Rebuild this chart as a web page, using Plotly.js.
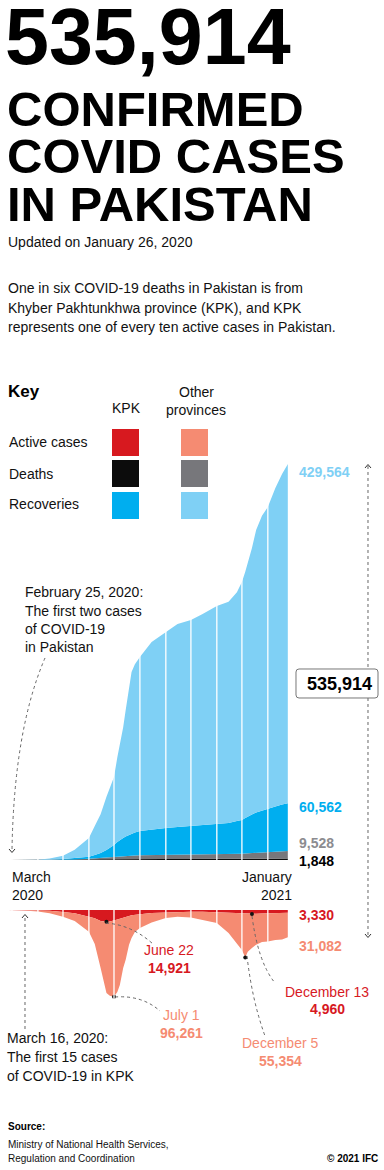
<!DOCTYPE html>
<html>
<head>
<meta charset="utf-8">
<script src="https://cdn.plot.ly/plotly-3.0.1.min.js"></script>
<style>
html,body{margin:0;padding:0;background:#fff;}
#chart{width:384px;height:1170px;}
</style>
</head>
<body>
<div id="chart"></div>
<script>
// ---------------- DATA ----------------
const dates = ['2020-02-25','2020-03-01','2020-03-15','2020-04-01','2020-04-15','2020-05-01','2020-05-15',
  '2020-06-01','2020-06-08','2020-06-15','2020-06-22','2020-06-26','2020-07-01','2020-07-05','2020-07-08',
  '2020-07-12','2020-07-15','2020-07-19','2020-07-22','2020-07-26','2020-08-01','2020-08-15','2020-09-01',
  '2020-09-15','2020-10-01','2020-10-15','2020-11-01','2020-11-15','2020-11-25','2020-12-01','2020-12-05',
  '2020-12-08','2020-12-13','2020-12-18','2020-12-25','2021-01-01','2021-01-10','2021-01-18','2021-01-25'];

const kpkDeaths = [0,0,0,8,40,150,280,520,660,830,965,1030,1110,1140,1160,1180,1190,1200,1210,1215,1224,1235,
  1248,1255,1262,1270,1290,1330,1400,1440,1480,1510,1550,1600,1660,1720,1770,1810,1848];
const otherDeaths = [0,0,0,18,67,235,490,1023,1407,2009,2625,3005,3602,3843,3898,4017,4076,4275,4429,4548,4727,
  4895,5050,5136,5217,5337,5505,5762,6262,6585,6881,7037,7282,7553,7897,8538,8874,9245,9528];
const kpkRecoveries = [0,0,0,30,300,900,1700,2700,4200,6100,9100,11200,14300,17800,20200,22700,24500,26200,
  27300,29000,30800,32500,34200,35400,36500,37700,38800,39800,41700,42700,44800,46600,48800,51000,53100,
  54300,57200,59200,60562];
const otherRecoveries = [0,0,20,140,1600,4200,10500,23700,36700,49100,67300,76800,86000,107200,120700,140100,
  160200,186300,205100,213200,220200,237400,248500,257200,261000,267200,276100,280100,289600,301300,311800,
  320900,337400,357800,373300,382400,403200,418700,429564];
const kpkActive = [0,0,15,300,800,2500,4000,8500,10500,13900,14921,14500,13500,12000,11000,9500,8500,7500,6800,
  6000,5500,3800,2900,2300,2100,2200,3000,3600,4200,4500,4850,4900,4960,4700,4300,4000,3700,3500,3330];
const otherActive = [2,4,585,1600,3200,6000,10000,19000,32500,59600,90100,94000,96261,92000,84000,64000,54500,
  36500,28700,22000,17300,12000,7100,6200,7400,10500,13500,25400,38800,46200,55354,48100,43040,39300,36200,
  36000,34300,33900,31082];

const monthStarts = ['2020-03-01','2020-04-01','2020-05-01','2020-06-01','2020-07-01','2020-08-01','2020-09-01',
  '2020-10-01','2020-11-01','2020-12-01','2021-01-01'];

const callouts = [
  {date:'2020-06-22', level:'kpk', label:'June 22', value:'14,921', color:'#d7191f'},
  {date:'2020-07-01', level:'total', label:'July 1', value:'96,261', color:'#f58b72'},
  {date:'2020-12-05', level:'total', label:'December 5', value:'55,354', color:'#f58b72'},
  {date:'2020-12-13', level:'kpk', label:'December 13', value:'4,960', color:'#d7191f'}
];

// ---------------- STYLE ----------------
const W = 384, H = 1170;
const FONT = 'Liberation Sans, Arial, Helvetica, sans-serif';
const C = {
  red:'#d7191f', salmon:'#f58b72', black:'#0c0c0c', grey:'#77777b', blue:'#00aeef', lblue:'#7fd0f5',
  text:'#111111'
};
const px = x => x / W;
const py = y => 1 - y / H;

const last = dates.length - 1;
const topTotal = kpkDeaths[last] + otherDeaths[last] + kpkRecoveries[last] + otherRecoveries[last];
const activeTotal = kpkActive[last] + otherActive[last];
const grandTotal = topTotal + activeTotal;
const perPx = topTotal / 396;           // same scale for both panels
const botMax = perPx * 100;

const fmt = n => n.toLocaleString('en-US');

// ---------------- TRACES ----------------
function area(y, color, group, axis) {
  return {type:'scatter', mode:'lines', x:dates, y:y, stackgroup:group, yaxis:axis,
    line:{width:0, color:color, shape:'linear'}, fillcolor:color, hoverinfo:'skip'};
}
const traces = [
  area(kpkDeaths, C.black, 'top', 'y'),
  area(otherDeaths, C.grey, 'top', 'y'),
  area(kpkRecoveries, C.blue, 'top', 'y'),
  area(otherRecoveries, C.lblue, 'top', 'y'),
  area(kpkActive, C.red, 'bot', 'y2'),
  area(otherActive, C.salmon, 'bot', 'y2')
];
const dotX = [], dotY = [];
callouts.forEach(c => {
  const i = dates.indexOf(c.date);
  dotX.push(c.date);
  dotY.push(c.level === 'kpk' ? kpkActive[i] : kpkActive[i] + otherActive[i]);
});

// ---------------- SHAPES ----------------
const shapes = [];
monthStarts.forEach(m => {
  shapes.push({type:'line', xref:'x', yref:'y', x0:m, x1:m, y0:0, y1:topTotal, line:{color:'#ffffff', width:1.3}, layer:'above'});
  shapes.push({type:'line', xref:'x', yref:'y2', x0:m, x1:m, y0:0, y1:botMax, line:{color:'#ffffff', width:1.3}, layer:'above'});
});
// Key swatches
const sw = [[C.red, C.salmon],[C.black, C.grey],[C.blue, C.lblue]];
const swY = [429, 460, 492];
sw.forEach((row, r) => {
  [112, 181].forEach((x, k) => {
    shapes.push({type:'rect', xref:'paper', yref:'paper', x0:px(x), x1:px(x+27), y0:py(swY[r]+27), y1:py(swY[r]),
      fillcolor:row[k], line:{width:0}});
  });
});
function P(pts) { // pixel path -> paper path
  return pts.map(p => typeof p === 'string' ? p : (px(p[0]).toFixed(5) + ',' + py(p[1]).toFixed(5))).join(' ');
}
const dotLine = {color:'#666666', width:1, dash:'dot'};
const arrowLine = {color:'#333333', width:1};
function pathShape(pts, line) {
  return {type:'path', xref:'paper', yref:'paper', path:P(pts), line:line};
}
// Feb 25 leader
shapes.push(pathShape(['M',[45,658],'Q',[14,730],[12,850]], dotLine));
shapes.push(pathShape(['M',[9,849],'L',[12,852.5],'L',[15,849]], arrowLine));
// March 16 leader
shapes.push(pathShape(['M',[25,918],'L',[25,1030]], dotLine));
shapes.push(pathShape(['M',[22,918],'L',[25,914.5],'L',[28,918]], arrowLine));
// callout leaders
shapes.push(pathShape(['M',[106,923],'Q',[132,925],[153,944]], dotLine));
shapes.push(pathShape(['M',[115,997],'Q',[142,995],[160,1011]], dotLine));
shapes.push(pathShape(['M',[247,956],'Q',[252,1000],[265,1036]], dotLine));
shapes.push(pathShape(['M',[252,916],'Q',[258,962],[275,983]], dotLine));
// total bracket
shapes.push(pathShape(['M',[368,466],'L',[368,669]], dotLine));
shapes.push(pathShape(['M',[368,698],'L',[368,936]], dotLine));
shapes.push(pathShape(['M',[365,468],'L',[368,464.5],'L',[371,468]], arrowLine));
shapes.push(pathShape(['M',[365,934],'L',[368,937.5],'L',[371,934]], arrowLine));
// rounded box
(function(){
  const x0=296, x1=378, y0=669, y1=698, r=3;
  shapes.push(pathShape(['M',[x0+r,y0],'L',[x1-r,y0],'Q',[x1,y0],[x1,y0+r],'L',[x1,y1-r],'Q',[x1,y1],[x1-r,y1],
    'L',[x0+r,y1],'Q',[x0,y1],[x0,y1-r],'L',[x0,y0+r],'Q',[x0,y0],[x0+r,y0],'Z'], {color:'#777777', width:1}));
})();

// ---------------- TEXT ----------------
const ann = [];
function T(text, x, base, size, color, opts) {
  opts = opts || {};
  ann.push({text:text, xref:'paper', yref:'paper', x:px(x), y:py(base - 0.35*size), xanchor:opts.anchor || 'left',
    yanchor:'middle', showarrow:false, borderpad:0, borderwidth:0,
    font:{family:FONT, size:size, color:color, weight:opts.bold ? 700 : 400}});
}
T(fmt(grandTotal), 5, 64.5, 79, '#000', {bold:true});
// three headline lines in one text; leading tightened after render
const HEAD_LINES = ['CONFIRMED','COVID CASES','IN PAKISTAN'];
const HEAD_SIZE = 49, HEAD_BASE = 126, HEAD_LEAD = 47.5;
ann.push({text:HEAD_LINES.join('<br>'), xref:'paper', yref:'paper', x:px(7), y:py(80), xanchor:'left',
  yanchor:'top', align:'left', showarrow:false, borderpad:0, borderwidth:0,
  font:{family:FONT, size:HEAD_SIZE, color:'#000', weight:700}});

T('Updated on January 26, 2020', 8, 247, 14, C.text);
T('One in six COVID-19 deaths in Pakistan is from', 8, 293, 14, C.text);
T('Khyber Pakhtunkhwa province (KPK), and KPK', 8, 312.5, 14, C.text);
T('represents one of every ten active cases in Pakistan.', 8, 332, 14, C.text);

T('Key', 8, 397, 17, '#000', {bold:true});
T('KPK', 126, 413, 14, C.text, {anchor:'center'});
T('Other', 196, 396.5, 14, C.text, {anchor:'center'});
T('provinces', 196, 415, 14, C.text, {anchor:'center'});
T('Active cases', 9, 447, 14, C.text);
T('Deaths', 9, 479, 14, C.text);
T('Recoveries', 9, 509, 14, C.text);

T(fmt(otherRecoveries[last]), 299, 477, 14, C.lblue, {bold:true});
T(fmt(kpkRecoveries[last]), 299, 812, 14, C.blue, {bold:true});
T(fmt(otherDeaths[last]), 299, 848, 14, '#8c8c90', {bold:true});
T(fmt(kpkDeaths[last]), 299, 866, 14, '#000', {bold:true});
T(fmt(kpkActive[last]), 299, 920, 14, C.red, {bold:true});
T(fmt(otherActive[last]), 299, 951, 14, C.salmon, {bold:true});
T(fmt(grandTotal), 339, 690, 18, '#000', {anchor:'center', bold:true});

T('February 25, 2020:', 25, 597, 14, C.text);
T('The first two cases', 25, 615.5, 14, C.text);
T('of COVID-19', 25, 634, 14, C.text);
T('in Pakistan', 25, 652, 14, C.text);

T('March', 12, 882, 14, C.text);
T('2020', 12, 900, 14, C.text);
T('January', 292, 882, 14, C.text, {anchor:'right'});
T('2021', 292, 900, 14, C.text, {anchor:'right'});

const calloutPos = [[169,955,973],[181,1020,1038],[280,1048,1066],[327,997,1014]];
callouts.forEach((c, k) => {
  const p = calloutPos[k];
  T(c.label, p[0], p[1], 14, c.color, {anchor:'center'});
  T(c.value, p[0], p[2], 14, c.color, {anchor:'center', bold:true});
});

T('March 16, 2020:', 7, 1043, 14, C.text);
T('The first 15 cases', 7, 1062, 14, C.text);
T('of COVID-19 in KPK', 7, 1081, 14, C.text);

T('Source:', 8, 1130, 10, '#000', {bold:true});
T('Ministry of National Health Services,', 8, 1148, 10, C.text);
T('Regulation and Coordination', 8, 1162, 10, C.text);
T('© 2021 IFC', 378, 1162, 10, '#000', {anchor:'right', bold:true});

traces.push({type:'scatter', mode:'markers', x:dotX, y:dotY, yaxis:'y2',
  marker:{size:4, color:'#111111'}, hoverinfo:'skip'});

// ---------------- LAYOUT ----------------
const layout = {
  width:W, height:H, margin:{l:0, r:0, t:0, b:0}, paper_bgcolor:'#ffffff', plot_bgcolor:'rgba(0,0,0,0)',
  showlegend:false, font:{family:FONT},
  xaxis:{type:'date', range:[dates[0], dates[last]], domain:[7.8/W, 287.9/W], visible:false, fixedrange:true},
  yaxis:{range:[0, topTotal], domain:[py(860), py(464)], visible:false, fixedrange:true},
  yaxis2:{range:[botMax, 0], domain:[py(1010), py(910)], visible:false, fixedrange:true, anchor:'x'},
  shapes:shapes, annotations:ann
};
Plotly.newPlot('chart', traces, layout, {staticPlot:true, displayModeBar:false}).then(function(gd){
  // tighten the headline leading to match the poster typography
  gd.querySelectorAll('.annotation-text').forEach(function(t){
    if (t.textContent.indexOf('CONFIRMED') !== 0) return;
    const lines = t.querySelectorAll('tspan.line');
    lines.forEach(function(ln, i){ ln.setAttribute('dy', String(i * HEAD_LEAD)); });
    const svgTop = gd.getBoundingClientRect().top;
    const r = lines[0].getBoundingClientRect();
    const wantTop = HEAD_BASE - 0.905 * HEAD_SIZE;
    const delta = wantTop - (r.top - svgTop);
    const prev = t.getAttribute('transform') || '';
    t.setAttribute('transform', prev + ' translate(0,' + delta.toFixed(2) + ')');
  });
});
</script>
</body>
</html>
